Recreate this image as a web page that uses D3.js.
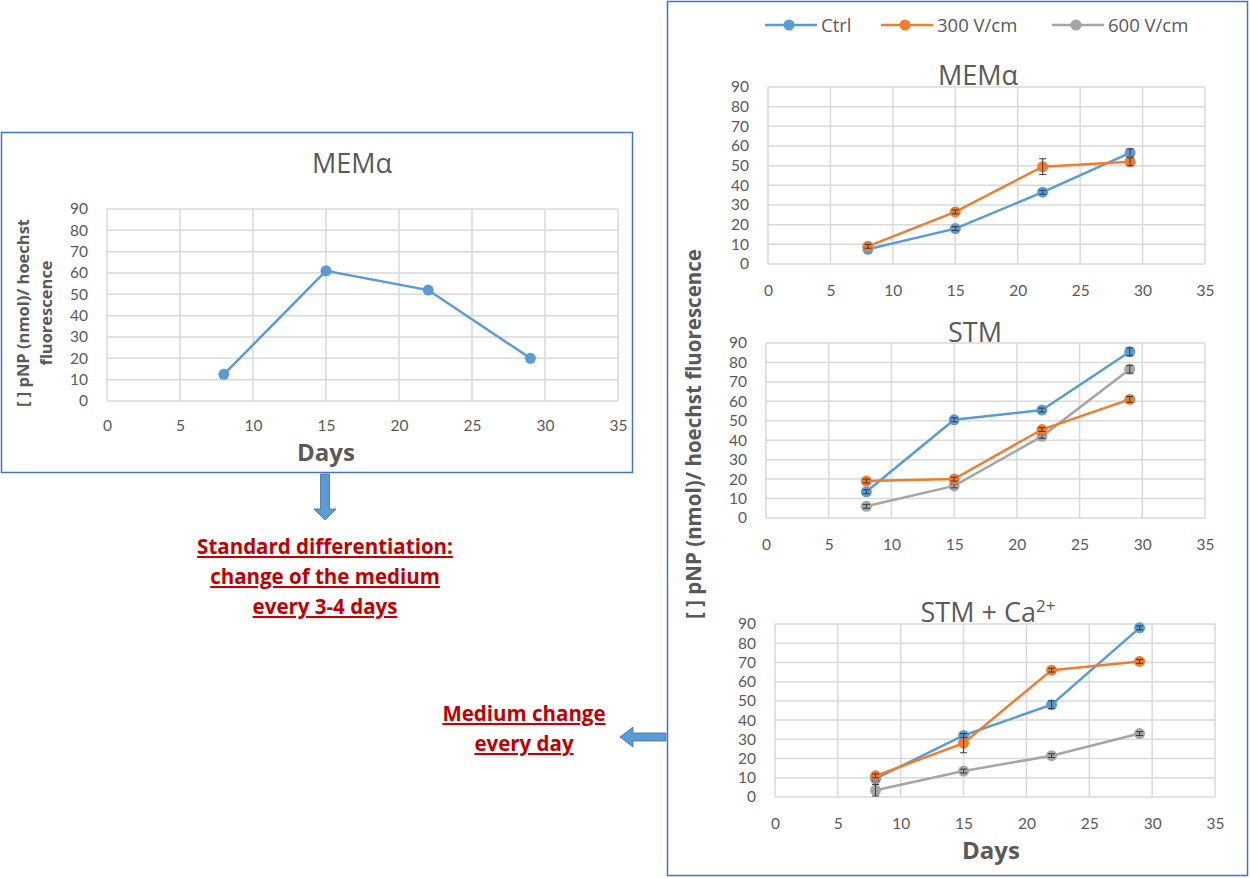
<!DOCTYPE html>
<html><head><meta charset="utf-8">
<script src="https://cdn.jsdelivr.net/npm/d3@7"></script>
<style>body{margin:0;background:#fff}svg{display:block;font-family:"Open Sans",sans-serif}</style>
</head><body>
<svg id="c" width="1250" height="878"></svg>
<script>
const days = [8, 15, 22, 29];
const xTicks = [0, 5, 10, 15, 20, 25, 30, 35];
const yTicks = [0, 10, 20, 30, 40, 50, 60, 70, 80, 90];
const seriesNames = ["Ctrl", "300 V/cm", "600 V/cm"];
const seriesColors = ["#5B9BD5", "#ED7D31", "#A5A5A5"];

// Left chart (standard differentiation)
const stdCtrl = [12.5, 61, 52, 20];

// Right charts (medium change every day)
const memCtrl = [7.5, 18, 36.5, 56.5];
const memCtrlErr = [0.5, 1, 1, 2];
const mem300 = [9, 26.5, 49.5, 52];
const mem300Err = [1, 1, 4, 2];

const stmCtrl = [13.5, 50.5, 55.5, 85.5];
const stmCtrlErr = [1, 1, 1, 2];
const stm300 = [19, 20, 45.5, 61];
const stm300Err = [1, 1, 1, 1.5];
const stm600 = [6, 16.5, 42, 76.5];
const stm600Err = [1, 1, 1, 2];

const caCtrl = [9.5, 32, 48, 88];
const caCtrlErr = [1, 1, 2, 1];
const ca300 = [11, 28, 66, 70.5];
const ca300Err = [1, 5, 1, 1];
const ca600 = [3.5, 13.5, 21.5, 33];
const ca600Err = [3, 1, 1, 1];

const svg = d3.select("#c");
const TXT = "#595959";
const BOX = "#4472C4";
const TICKFONT = "Lato,sans-serif";

function panel(o) {
  const x = d3.scaleLinear().domain([0, 35]).range([o.x0, o.x1]);
  const y = d3.scaleLinear().domain([0, 90]).range([o.yb, o.yt]);
  const g = svg.append("g");
  g.selectAll(".hg").data(yTicks).join("line")
    .attr("x1", o.x0).attr("x2", o.x1).attr("y1", d => y(d)).attr("y2", d => y(d))
    .attr("stroke", "#D9D9D9").attr("stroke-width", 1.5);
  g.selectAll(".vg").data(xTicks).join("line")
    .attr("y1", o.yt).attr("y2", o.yb).attr("x1", d => x(d)).attr("x2", d => x(d))
    .attr("stroke", "#D9D9D9").attr("stroke-width", 1.5);
  const ya = g.append("g").attr("transform", `translate(${o.x0},0)`)
    .call(d3.axisLeft(y).tickValues(yTicks).tickSize(0).tickPadding(19));
  const xa = g.append("g").attr("transform", `translate(0,${o.yb})`)
    .call(d3.axisBottom(x).tickValues(xTicks).tickSize(0).tickPadding(o.xpad || 21));
  [ya, xa].forEach(a => {
    a.select(".domain").remove();
    a.selectAll("text").attr("fill", TXT).attr("font-size", 15.5).attr("font-family", TICKFONT);
  });
  const t = g.append("text").attr("x", o.tx).attr("y", o.ty).attr("text-anchor", "middle")
    .attr("fill", TXT).attr("font-size", 27).text(o.title);
  if (o.sup) t.append("tspan").attr("dy", -10).attr("font-size", 17).text(o.sup);
  o.series.forEach(s => {
    const pts = days.map((d, i) => ({ d, v: s.vals[i], e: s.err ? s.err[i] : 0 }));
    g.append("path").datum(pts)
      .attr("d", d3.line().x(p => x(p.d)).y(p => y(p.v)))
      .attr("fill", "none").attr("stroke", s.color).attr("stroke-width", 2.5);
    g.selectAll(null).data(pts).join("circle")
      .attr("cx", p => x(p.d)).attr("cy", p => y(p.v)).attr("r", 5.5).attr("fill", s.color);
    if (s.err) {
      const eb = g.selectAll(null).data(pts).join("g").attr("stroke", "#3a3a3a").attr("stroke-width", 1);
      eb.append("line").attr("x1", p => x(p.d)).attr("x2", p => x(p.d))
        .attr("y1", p => y(p.v - p.e)).attr("y2", p => y(p.v + p.e));
      eb.append("line").attr("x1", p => x(p.d) - 3.5).attr("x2", p => x(p.d) + 3.5)
        .attr("y1", p => y(p.v - p.e)).attr("y2", p => y(p.v - p.e));
      eb.append("line").attr("x1", p => x(p.d) - 3.5).attr("x2", p => x(p.d) + 3.5)
        .attr("y1", p => y(p.v + p.e)).attr("y2", p => y(p.v + p.e));
    }
  });
}

// boxes
svg.append("rect").attr("x", 1.5).attr("y", 132.5).attr("width", 631).attr("height", 340)
  .attr("fill", "none").attr("stroke", BOX).attr("stroke-width", 1.5);
svg.append("rect").attr("x", 667.5).attr("y", 1.5).attr("width", 580).attr("height", 874)
  .attr("fill", "none").attr("stroke", BOX).attr("stroke-width", 1.5);

// left chart
panel({x0: 107, x1: 618, yt: 209, yb: 401, title: "MEMα", tx: 352, ty: 173, xpad: 19,
  series: [{vals: stdCtrl, color: seriesColors[0]}]});
svg.append("text").attr("x", 326).attr("y", 461).attr("text-anchor", "middle")
  .attr("font-weight", "bold").attr("font-size", 24).attr("fill", TXT).text("Days");
const ll = svg.append("text").attr("transform", "translate(29,313) rotate(-90)")
  .attr("text-anchor", "middle").attr("font-weight", "bold").attr("font-size", 16.5).attr("fill", TXT);
ll.append("tspan").attr("x", 0).attr("dy", 0).text("[ ] pNP (nmol)/ hoechst");
ll.append("tspan").attr("x", 0).attr("dy", 23).text("fluorescence");

// right charts
panel({x0: 768, x1: 1205, yt: 87, yb: 264, title: "MEMα", tx: 978, ty: 85, xpad: 21,
  series: [{vals: memCtrl, err: memCtrlErr, color: seriesColors[0]},
           {vals: mem300, err: mem300Err, color: seriesColors[1]}]});
panel({x0: 766, x1: 1205, yt: 343, yb: 518, title: "STM", tx: 975, ty: 342, xpad: 21,
  series: [{vals: stmCtrl, err: stmCtrlErr, color: seriesColors[0]},
           {vals: stm600, err: stm600Err, color: seriesColors[2]},
           {vals: stm300, err: stm300Err, color: seriesColors[1]}]});
panel({x0: 775, x1: 1215, yt: 624, yb: 797, title: "STM + Ca", sup: "2+", tx: 988, ty: 622, xpad: 21,
  series: [{vals: caCtrl, err: caCtrlErr, color: seriesColors[0]},
           {vals: ca600, err: ca600Err, color: seriesColors[2]},
           {vals: ca300, err: ca300Err, color: seriesColors[1]}]});
svg.append("text").attr("x", 991).attr("y", 859).attr("text-anchor", "middle")
  .attr("font-weight", "bold").attr("font-size", 24).attr("fill", TXT).text("Days");
svg.append("text").attr("transform", "translate(701,434) rotate(-90)")
  .attr("text-anchor", "middle").attr("font-weight", "bold").attr("font-size", 20.5).attr("fill", TXT)
  .text("[ ] pNP (nmol)/ hoechst fluorescence");

// legend
const legX = [765, 881, 1052];
seriesNames.forEach((n, i) => {
  const lg = svg.append("g");
  lg.append("line").attr("x1", legX[i]).attr("x2", legX[i] + 52).attr("y1", 25).attr("y2", 25)
    .attr("stroke", seriesColors[i]).attr("stroke-width", 2.5);
  lg.append("circle").attr("cx", legX[i] + 24).attr("cy", 25).attr("r", 5.5).attr("fill", seriesColors[i]);
  lg.append("text").attr("x", legX[i] + 56).attr("y", 32).attr("fill", TXT).attr("font-size", 18.5).text(n);
});

// arrows
const AR = "#5B9BD5", ARS = "#41719C";
svg.append("path").attr("d", "M320.5,474 L329.5,474 L329.5,509 L336,509 L325,520 L314,509 L320.5,509 Z")
  .attr("fill", AR).attr("stroke", ARS).attr("stroke-width", 0.8);
svg.append("path").attr("d", "M666,733 L633,733 L633,727 L620,737 L633,747 L633,741 L666,741 Z")
  .attr("fill", AR).attr("stroke", ARS).attr("stroke-width", 0.8);

// annotations
const RED = "#C00000";
function note(lines, cx, y0, dy) {
  lines.forEach((l, i) => svg.append("text").attr("x", cx).attr("y", y0 + i * dy)
    .attr("text-anchor", "middle").attr("font-weight", "bold").attr("font-size", 20.5)
    .attr("fill", RED).attr("text-decoration", "underline").text(l));
}
note(["Standard differentiation:", "change of the medium", "every 3-4 days"], 325, 554, 30);
note(["Medium change", "every day"], 524, 721, 30);
</script>
</body></html>
